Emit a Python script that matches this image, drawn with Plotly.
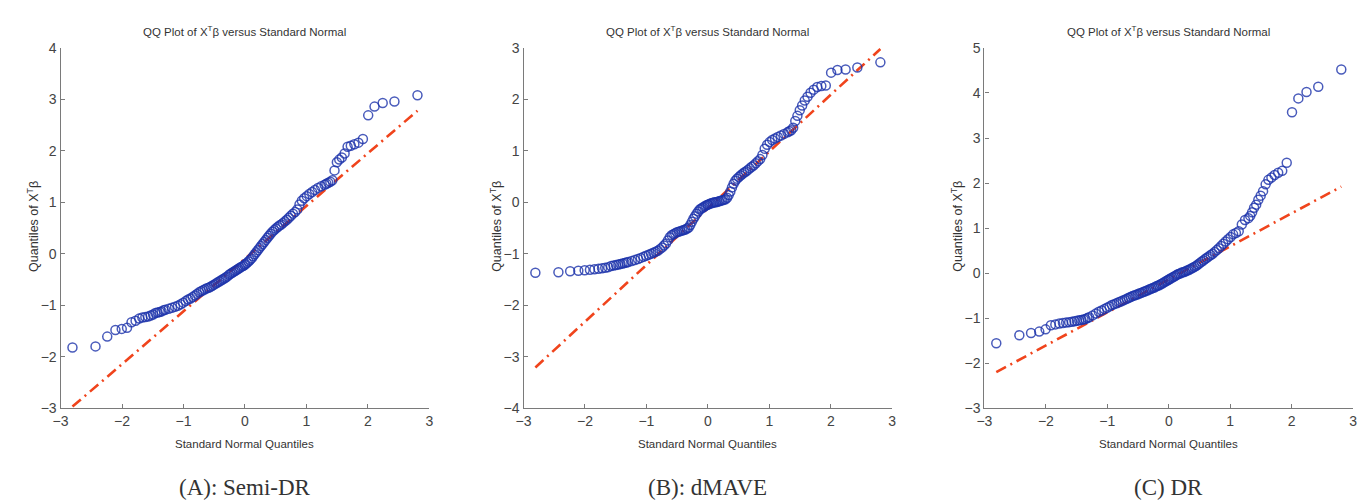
import plotly.graph_objects as go

# Standard normal quantiles (plotting positions of a 200-point sample; subset shown)
normal_q = [-2.807, -2.432, -2.241, -2.108, -2.005, -1.919, -1.846, -1.780, -1.722, -1.670,
            -1.621, -1.576, -1.534, -1.495, -1.457, -1.422, -1.388, -1.356, -1.325, -1.296,
            -1.240, -1.188, -1.138, -1.092, -1.047, -1.005, -0.964, -0.925, -0.887, -0.851,
            -0.815, -0.781, -0.747, -0.714, -0.682, -0.651, -0.620, -0.590, -0.561, -0.532,
            -0.503, -0.475, -0.447, -0.419, -0.392, -0.366, -0.339, -0.313, -0.287, -0.261,
            -0.235, -0.209, -0.183, -0.157, -0.132, -0.107, -0.082, -0.056, -0.031, -0.006,
            0.006, 0.031, 0.056, 0.082, 0.107, 0.132, 0.157, 0.183, 0.209, 0.235,
            0.261, 0.287, 0.313, 0.339, 0.366, 0.392, 0.419, 0.447, 0.475, 0.503,
            0.532, 0.561, 0.590, 0.620, 0.651, 0.682, 0.714, 0.747, 0.781, 0.815,
            0.851, 0.887, 0.925, 0.964, 1.005, 1.047, 1.092, 1.138, 1.188, 1.240,
            1.296, 1.325, 1.356, 1.388, 1.422, 1.457, 1.495, 1.534, 1.576, 1.621,
            1.670, 1.722, 1.780, 1.846, 1.919, 2.005, 2.108, 2.241, 2.432, 2.807]

semi_dr = [-1.82, -1.80, -1.61, -1.48, -1.46, -1.44, -1.33, -1.30, -1.26, -1.24,
           -1.23, -1.22, -1.20, -1.18, -1.15, -1.14, -1.13, -1.12, -1.10, -1.09,
           -1.07, -1.05, -1.03, -1.01, -0.98, -0.95, -0.92, -0.89, -0.87, -0.84,
           -0.81, -0.78, -0.75, -0.73, -0.71, -0.69, -0.67, -0.66, -0.64, -0.62,
           -0.60, -0.58, -0.56, -0.54, -0.52, -0.50, -0.48, -0.46, -0.44, -0.41,
           -0.39, -0.37, -0.35, -0.33, -0.31, -0.29, -0.27, -0.25, -0.24, -0.22,
           -0.20, -0.18, -0.15, -0.12, -0.09, -0.05, -0.01, 0.03, 0.07, 0.11,
           0.15, 0.19, 0.23, 0.27, 0.31, 0.35, 0.39, 0.43, 0.46, 0.49,
           0.52, 0.55, 0.57, 0.60, 0.63, 0.66, 0.70, 0.74, 0.78, 0.81,
           0.86, 0.96, 1.03, 1.08, 1.12, 1.16, 1.20, 1.24, 1.28, 1.31,
           1.34, 1.36, 1.38, 1.40, 1.43, 1.62, 1.78, 1.83, 1.87, 1.95,
           2.08, 2.10, 2.13, 2.16, 2.23, 2.69, 2.86, 2.93, 2.96, 3.08]

dmave = [-1.37, -1.36, -1.34, -1.33, -1.32, -1.31, -1.30, -1.29, -1.28, -1.27,
         -1.26, -1.24, -1.23, -1.22, -1.21, -1.20, -1.19, -1.18, -1.17, -1.16,
         -1.14, -1.12, -1.10, -1.08, -1.06, -1.04, -1.02, -1.00, -0.98, -0.96,
         -0.94, -0.91, -0.88, -0.84, -0.80, -0.74, -0.68, -0.64, -0.62, -0.60,
         -0.58, -0.57, -0.56, -0.55, -0.54, -0.53, -0.51, -0.49, -0.44, -0.38,
         -0.32, -0.27, -0.22, -0.18, -0.14, -0.12, -0.10, -0.08, -0.06, -0.05,
         -0.04, -0.03, -0.02, -0.01, 0.00, 0.00, 0.01, 0.02, 0.03, 0.04,
         0.05, 0.06, 0.09, 0.14, 0.21, 0.29, 0.36, 0.42, 0.46, 0.49,
         0.52, 0.55, 0.58, 0.60, 0.63, 0.66, 0.69, 0.72, 0.76, 0.80,
         0.84, 0.92, 1.04, 1.12, 1.17, 1.21, 1.24, 1.27, 1.30, 1.33,
         1.36, 1.38, 1.40, 1.45, 1.58, 1.68, 1.79, 1.88, 1.98, 2.05,
         2.13, 2.19, 2.24, 2.26, 2.27, 2.52, 2.57, 2.58, 2.62, 2.72]

dr = [-1.56, -1.38, -1.33, -1.30, -1.25, -1.16, -1.14, -1.12, -1.11, -1.10,
      -1.09, -1.08, -1.07, -1.06, -1.05, -1.04, -1.03, -1.02, -1.00, -0.98,
      -0.94, -0.90, -0.86, -0.83, -0.80, -0.77, -0.74, -0.71, -0.69, -0.67,
      -0.65, -0.63, -0.61, -0.59, -0.57, -0.55, -0.53, -0.51, -0.50, -0.48,
      -0.47, -0.45, -0.44, -0.42, -0.41, -0.39, -0.38, -0.36, -0.35, -0.33,
      -0.32, -0.30, -0.28, -0.27, -0.25, -0.23, -0.21, -0.19, -0.17, -0.15,
      -0.14, -0.12, -0.10, -0.08, -0.06, -0.04, -0.02, -0.01, 0.01, 0.02,
      0.03, 0.05, 0.06, 0.08, 0.10, 0.12, 0.14, 0.16, 0.19, 0.22,
      0.25, 0.28, 0.31, 0.34, 0.37, 0.40, 0.43, 0.47, 0.51, 0.55,
      0.60, 0.65, 0.70, 0.75, 0.80, 0.86, 0.89, 0.93, 1.08, 1.18,
      1.22, 1.27, 1.35, 1.45, 1.52, 1.63, 1.72, 1.82, 1.97, 2.07,
      2.12, 2.18, 2.23, 2.27, 2.45, 3.57, 3.88, 4.02, 4.14, 4.52]

# reference-line end points (x, y)
ref_x = [-2.807, 2.807]
ref_semi_dr = [-2.97, 2.78]
ref_dmave = [-3.21, 2.98]
ref_dr = [-2.20, 1.92]

panels = [
    dict(name="(A): Semi-DR", y=semi_dr, ref=ref_semi_dr, yrange=[-3, 4]),
    dict(name="(B): dMAVE", y=dmave, ref=ref_dmave, yrange=[-4, 3]),
    dict(name="(C) DR", y=dr, ref=ref_dr, yrange=[-3, 5]),
]
x_ticks = [-3, -2, -1, 0, 1, 2, 3]

W, H = 1367, 504
left_px = [45, 512, 977]
plot_w = 372
top_px, bot_px = 33, 405

fig = go.Figure()
layout = dict(
    width=W, height=H, margin=dict(l=0, r=0, t=0, b=0),
    paper_bgcolor="white", plot_bgcolor="white", showlegend=False,
    annotations=[],
)
axis_col = "#7a7a7a"
tick_font = dict(family="Liberation Sans, Arial", size=14, color="#444444")
title_font = dict(family="Liberation Sans, Arial", size=11.5, color="#333333")
xlab_font = dict(family="Liberation Sans, Arial", size=11.5, color="#333333")
ylab_font = dict(family="Liberation Sans, Arial", size=12.5, color="#333333")
pt_col = "rgba(28,50,170,0.8)"

for k, p in enumerate(panels):
    sfx = "" if k == 0 else str(k + 1)
    xa, ya = "x" + sfx, "y" + sfx
    x0 = left_px[k] / W
    x1 = (left_px[k] + plot_w) / W
    y0 = 1 - bot_px / H
    y1 = 1 - top_px / H
    fig.add_trace(go.Scatter(
        x=ref_x, y=p["ref"], mode="lines", xaxis=xa, yaxis=ya,
        line=dict(color="#f0441c", width=2.6, dash="11px,5px,2px,5px"),
        hoverinfo="skip"))
    fig.add_trace(go.Scatter(
        x=normal_q, y=p["y"], mode="markers", xaxis=xa, yaxis=ya,
        marker=dict(symbol="circle-open", size=9, color=pt_col,
                    line=dict(width=1.5, color=pt_col))))
    common = dict(showgrid=False, zeroline=False, showline=True, linecolor=axis_col,
                  linewidth=1.3, ticks="inside", ticklen=4, tickcolor=axis_col,
                  tickfont=tick_font, mirror=False)
    layout["xaxis" + sfx] = dict(domain=[x0, x1], range=[-3, 3], tickvals=x_ticks,
                                 anchor=ya, **common)
    layout["yaxis" + sfx] = dict(domain=[y0, y1], range=p["yrange"], dtick=1,
                                 anchor=xa, **common)
    cx = (left_px[k] + plot_w / 2) / W
    layout["annotations"] += [
        dict(text="QQ Plot of X<sup>T</sup>β versus Standard Normal", x=cx, y=1 - 16 / H,
             xref="paper", yref="paper", showarrow=False, font=title_font,
             xanchor="center", yanchor="middle"),
        dict(text="Standard Normal Quantiles", x=cx, y=1 - 442 / H,
             xref="paper", yref="paper", showarrow=False, font=xlab_font,
             xanchor="center", yanchor="middle"),
        dict(text="Quantiles of X<sup>T</sup>β", x=(left_px[k] - 28) / W,
             y=1 - 217 / H, xref="paper", yref="paper", showarrow=False,
             font=ylab_font, textangle=-90, xanchor="center", yanchor="middle"),
        dict(text=p["name"], x=cx, y=1 - 487 / H, xref="paper", yref="paper",
             showarrow=False, font=dict(family="Liberation Serif, serif", size=23,
                                        color="#333333"),
             xanchor="center", yanchor="middle"),
    ]

fig.update_layout(**layout)
fig.write_html("out.html")
